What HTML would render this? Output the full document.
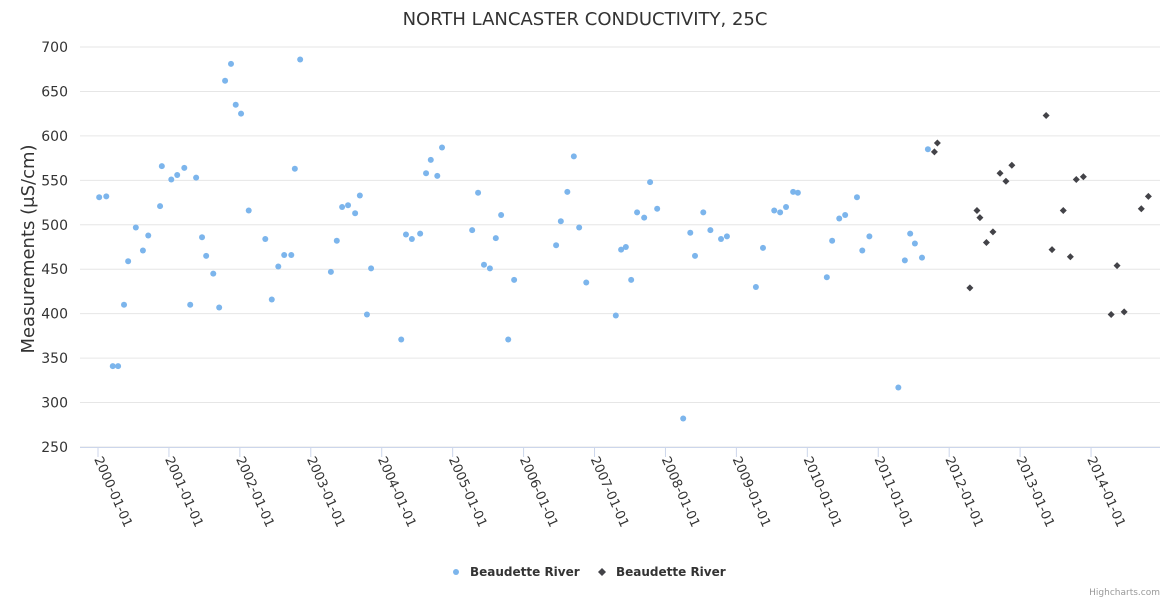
<!DOCTYPE html>
<html><head><meta charset="utf-8"><style>
body{margin:0;background:#fff;font-family:"DejaVu Sans",sans-serif;}
svg text{font-family:"DejaVu Sans",sans-serif;}
</style></head><body>
<svg id="chart" width="1170" height="600" xmlns="http://www.w3.org/2000/svg">
<rect width="1170" height="600" fill="#fff"/>
<text x="585" y="25" text-anchor="middle" font-size="18" fill="#333">NORTH LANCASTER CONDUCTIVITY, 25C</text>
<text transform="translate(34,249) rotate(-90)" text-anchor="middle" font-size="18" fill="#333">Measurements (μS/cm)</text>
<g id="grid"></g><g id="xaxis"></g><g id="marks"></g>
<g>
<g><circle cx="456" cy="572" r="3" fill="#7cb5ec"/><text x="470" y="576" font-size="12" font-weight="bold" fill="#333">Beaudette River</text></g>
<g><path d="M602,568 L606,572 L602,576 L598,572 Z" fill="#434348"/><text x="616" y="576" font-size="12" font-weight="bold" fill="#333">Beaudette River</text></g>
</g>
<text x="1160" y="595" text-anchor="end" font-size="9" fill="#999">Highcharts.com</text>
</svg>
<script>
const yTicks=[250,300,350,400,450,500,550,600,650,700];
const xTickLabels=["2000-01-01","2001-01-01","2002-01-01","2003-01-01","2004-01-01","2005-01-01","2006-01-01","2007-01-01","2008-01-01","2009-01-01","2010-01-01","2011-01-01","2012-01-01","2013-01-01","2014-01-01"];
// months since 2000-01
const blueMonths=[0.2,1.4,2.5,3.4,4.4,5.1,6.4,7.6,8.5,10.5,10.8,12.4,13.4,14.6,15.6,16.6,17.6,18.3,19.5,20.5,21.5,22.5,23.3,24.2,25.5,28.3,29.4,30.5,31.5,32.7,33.3,34.2,39.4,40.4,41.3,42.3,43.5,44.3,45.5,46.2,51.3,52.1,53.1,54.5,55.5,56.3,57.4,58.2,63.3,64.3,65.3,66.3,67.3,68.2,69.4,70.4,77.5,78.3,79.4,80.5,81.4,82.6,87.6,88.5,89.3,90.2,91.2,92.4,93.4,94.6,99.0,100.2,101.0,102.4,103.6,105.4,106.4,111.3,112.5,114.4,115.4,116.4,117.6,118.4,123.3,124.2,125.4,126.4,128.4,129.3,130.5,135.4,136.5,137.4,138.2,139.4,140.4];
const blueValues=[531,532,341,341,410,459,497,471,488,521,566,551,556,564,410,553,486,465,445,407,662,681,635,625,516,484,416,453,466,466,563,686,447,482,520,522,513,533,399,451,371,489,484,490,558,573,555,587,494,536,455,451,485,511,371,438,477,504,537,577,497,435,398,472,475,438,514,508,548,518,282,491,465,514,494,484,487,430,474,516,514,520,537,536,441,482,507,511,531,471,487,317,460,490,479,463,585];
const blackMonths=[141.5,142.0,147.5,148.7,149.2,150.3,151.4,152.6,153.6,154.6,160.4,161.4,163.3,164.5,165.5,166.7,171.4,172.4,173.6,176.5,177.7];
const blackValues=[582,592,429,516,508,480,492,558,549,567,623,472,516,464,551,554,399,454,402,518,532];

const NS="http://www.w3.org/2000/svg";
const L=80,R=1160,T=47,B=447;
const x=m=>98+m*5.911;
const y=v=>B-(v-250)*(B-T)/450;
function mk(tag,attrs,parent){const e=document.createElementNS(NS,tag);for(const k in attrs)e.setAttribute(k,attrs[k]);parent.appendChild(e);return e;}
const grid=document.getElementById('grid'),xa=document.getElementById('xaxis'),marks=document.getElementById('marks');
yTicks.forEach(v=>{
 const ln=mk('line',{x1:L,x2:R,y1:y(v),y2:y(v),stroke:'#e6e6e6','stroke-width':1},grid);
 
 
 const t=mk('text',{x:68,y:y(v)+5,'text-anchor':'end','font-size':14,fill:'#333'},grid);
 t.textContent=v;
 
 
});
const ax=mk('line',{x1:L,x2:R,y1:B+0.5,y2:B+0.5,stroke:'#ccd6eb'},xa);


xTickLabels.forEach((lab,i)=>{
 const px=x(i*12);
 const tk=mk('line',{x1:px,x2:px,y1:B,y2:B+10,stroke:'#ccd6eb'},xa);
 
 
 const t=mk('text',{transform:`translate(${px-4},${B+12}) rotate(66)`,'font-size':13,fill:'#333'},xa);
 t.textContent=lab;
 
 
});
blueMonths.forEach((m,i)=>{
 const c=mk('circle',{cx:x(m),cy:y(blueValues[i]),r:3,fill:'#7cb5ec'},marks);
 
 
});
blackMonths.forEach((m,i)=>{
 const px=x(m),py=y(blackValues[i]);
 const p=mk('path',{d:`M${px},${py-3.5} L${px+3.5},${py} L${px},${py+3.5} L${px-3.5},${py} Z`,fill:'#434348'},marks);
 
 
});
</script>
</body></html>
